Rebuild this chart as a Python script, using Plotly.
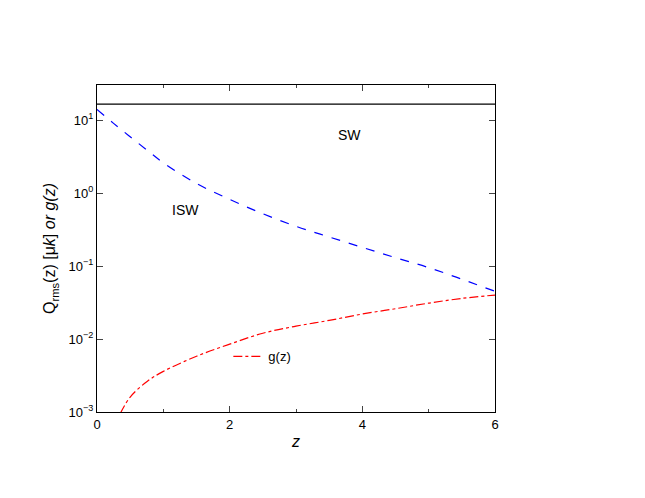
import plotly.graph_objects as go

z_isw = [0, 0.25, 0.5, 0.75, 1, 1.5, 2, 2.5, 3, 3.5, 4, 4.5, 5, 5.5, 6]
isw = [14, 9.0, 5.9, 3.9, 2.6, 1.35, 0.82, 0.52, 0.35, 0.25, 0.18, 0.13, 0.095, 0.066, 0.045]
z_g = [0.35, 0.5, 0.75, 1, 1.5, 2, 2.5, 3, 3.5, 4, 4.5, 5, 5.5, 6]
g = [0.00095, 0.0016, 0.0026, 0.0036, 0.0058, 0.0085, 0.012, 0.015, 0.018, 0.022, 0.026, 0.031, 0.036, 0.040]
sw_level = 16.5

fig = go.Figure()
fig.add_trace(go.Scatter(x=[0, 6], y=[sw_level, sw_level], mode="lines",
                         line=dict(color="black", width=1.2), showlegend=False))
fig.add_trace(go.Scatter(x=z_isw, y=isw, mode="lines", line=dict(color="blue", width=1.2, dash="dash", shape="spline"), showlegend=False))
fig.add_trace(go.Scatter(x=z_g, y=g, mode="lines", name="g(z)",
                         line=dict(color="red", width=1.2, dash="dashdot", shape="spline")))
fig.add_annotation(x=3.8, y=0.8, xref="x", yref="y", text="SW", showarrow=False, font=dict(size=14))
fig.add_annotation(x=1.33, y=-0.23, xref="x", yref="y", text="ISW", showarrow=False, font=dict(size=14))
fig.update_layout(
    width=645, height=498, paper_bgcolor="white", plot_bgcolor="white",
    margin=dict(l=89, r=158, t=77, b=94),
    font=dict(family="Liberation Sans, Arial", size=13, color="black"),
    legend=dict(x=0.33, y=0.17, xanchor="left", yanchor="middle", bgcolor="rgba(0,0,0,0)", font=dict(size=13)),
    xaxis=dict(range=[0, 6], tickvals=[0, 2, 4, 6], ticks="inside", ticklen=6, showgrid=False, zeroline=False,
               showline=True, linecolor="black", mirror="allticks", minor=dict(ticks="inside", ticklen=3, dtick=1),
               title=dict(text="<i>z</i>", standoff=5)),
    yaxis=dict(type="log", range=[-3, 1.48], tickvals=[0.001, 0.01, 0.1, 1, 10],
               ticktext=["10<sup>−3</sup>", "10<sup>−2</sup>", "10<sup>−1</sup>", "10<sup>0</sup>", "10<sup>1</sup>"],
               ticks="inside", ticklen=6, showgrid=False, zeroline=False, showline=True, linecolor="black", mirror="allticks",
               title=dict(text="Q<sub>rms</sub>(z) [μ<i>k</i>] <i>or g(z)</i>", standoff=8)),
)
fig.write_html("out.html")
